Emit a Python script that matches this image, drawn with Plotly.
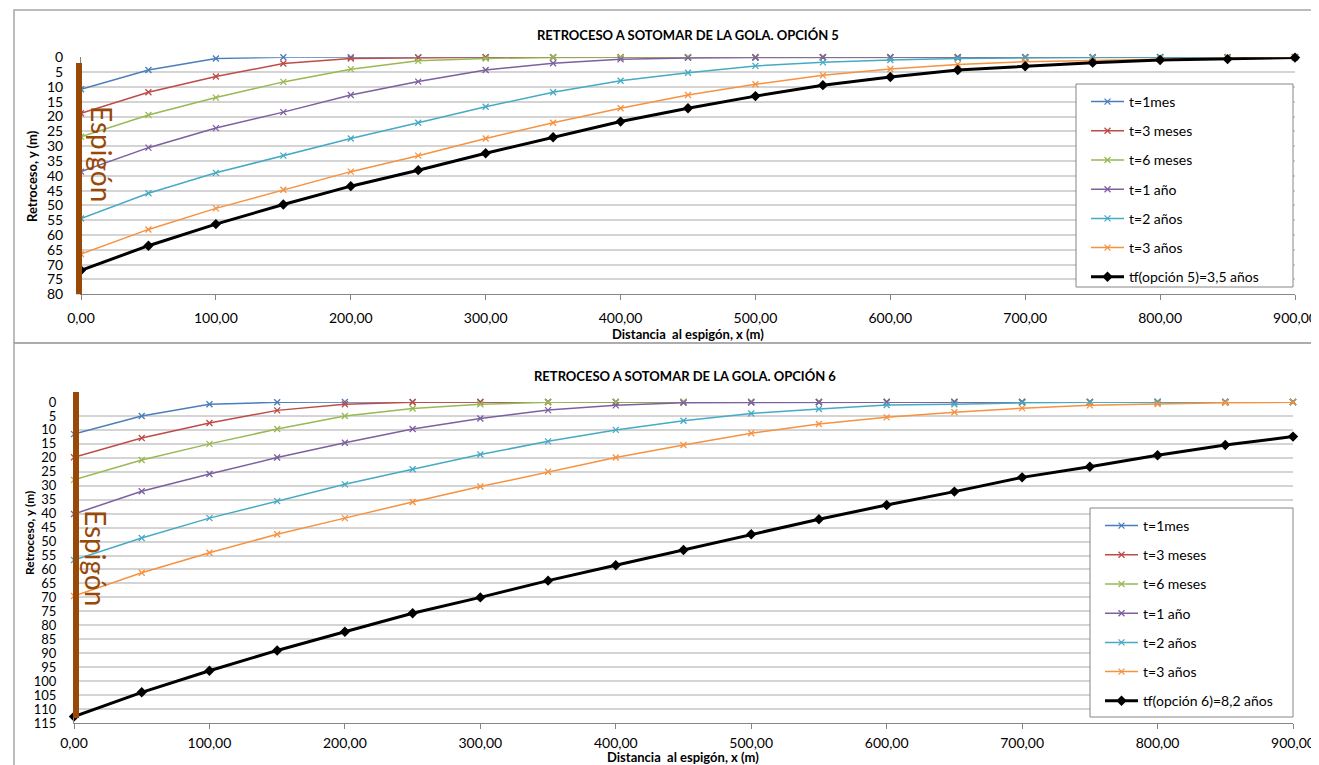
import plotly.graph_objects as go

# page body has an 8px margin: the figure is placed at (8, 8) in the window
OFF = 8
W, H = 1319 - OFF, 765 - OFF

# ---------------- data ----------------
x_dist = [0, 50, 100, 150, 200, 250, 300, 350, 400, 450, 500, 550, 600, 650, 700, 750, 800, 850, 900]

names_5 = ["t=1mes", "t=3 meses", "t=6 meses", "t=1 año", "t=2 años", "t=3 años", "tf(opción 5)=3,5 años"]
names_6 = ["t=1mes", "t=3 meses", "t=6 meses", "t=1 año", "t=2 años", "t=3 años", "tf(opción 6)=8,2 años"]

# Opción 5
o5_t1m = [10.8, 4.3, 0.4, 0, 0, 0, 0, 0, 0, 0, 0, 0, 0, 0, 0, 0, 0, 0, 0]
o5_t3m = [18.9, 11.8, 6.5, 2.1, 0.4, 0.1, 0, 0, 0, 0, 0, 0, 0, 0, 0, 0, 0, 0, 0]
o5_t6m = [26.8, 19.5, 13.6, 8.3, 4.0, 1.2, 0.4, 0.05, 0, 0, 0, 0, 0, 0, 0, 0, 0, 0, 0]
o5_t1a = [38.6, 30.5, 23.9, 18.5, 12.7, 8.2, 4.3, 2.0, 0.7, 0.2, 0.05, 0, 0, 0, 0, 0, 0, 0, 0]
o5_t2a = [54.4, 45.9, 39.0, 33.2, 27.4, 22.1, 16.7, 11.8, 7.9, 5.2, 2.9, 1.7, 0.9, 0.4, 0.1, 0.05, 0, 0, 0]
o5_t3a = [66.4, 58.1, 51.0, 44.7, 38.6, 33.2, 27.4, 22.1, 17.2, 12.7, 9.1, 6.1, 3.95, 2.4, 1.5, 1.1, 0.6, 0.2, 0]
o5_tf = [71.9, 63.6, 56.3, 49.7, 43.5, 38.1, 32.4, 27.0, 21.7, 17.2, 13.1, 9.4, 6.65, 4.3, 3.0, 1.8, 0.9, 0.6, 0.1]

# Opción 6
o6_t1m = [11.5, 5.0, 0.8, 0.1, 0, 0, 0, 0, 0, 0, 0, 0, 0, 0, 0, 0, 0, 0, 0]
o6_t3m = [19.8, 12.9, 7.5, 3.0, 0.8, 0.1, 0, 0, 0, 0, 0, 0, 0, 0, 0, 0, 0, 0, 0]
o6_t6m = [27.9, 20.8, 15.0, 9.7, 5.0, 2.3, 0.8, 0.1, 0, 0, 0, 0, 0, 0, 0, 0, 0, 0, 0]
o6_t1a = [40.1, 32.0, 25.8, 19.9, 14.6, 9.7, 5.9, 2.9, 1.2, 0.3, 0.2, 0.1, 0, 0, 0, 0, 0, 0, 0]
o6_t2a = [56.6, 48.7, 41.6, 35.5, 29.5, 24.1, 18.8, 14.1, 10.0, 6.7, 4.1, 2.5, 1.1, 0.8, 0.3, 0.1, 0, 0, 0]
o6_t3a = [69.5, 61.2, 54.0, 47.4, 41.6, 35.8, 30.3, 25.0, 19.9, 15.4, 11.2, 7.9, 5.5, 3.7, 2.2, 1.2, 0.7, 0.25, 0.1]
o6_tf = [112.7, 104.0, 96.3, 89.0, 82.3, 75.7, 70.0, 64.0, 58.5, 53.0, 47.4, 42.0, 36.9, 32.1, 27.0, 23.2, 19.1, 15.4, 12.4]

x_ticks = [0, 100, 200, 300, 400, 500, 600, 700, 800, 900]

series_5 = [o5_t1m, o5_t3m, o5_t6m, o5_t1a, o5_t2a, o5_t3a, o5_tf]
series_6 = [o6_t1m, o6_t3m, o6_t6m, o6_t1a, o6_t2a, o6_t3a, o6_tf]

colors = ["#4A7EBB", "#BE4B48", "#98B954", "#7D60A0", "#46AAC5", "#F69240", "#000000"]
BROWN = "#984807"
FONT = "Lato"

# plot-area boxes in window pixels: (left, right, top, bottom)
BOX1 = (81, 1295, 57.3, 294.3)
BOX2 = (74, 1293, 402, 723)


def pxx(v):
    return (v - OFF) / W


def pyy(v):
    return 1 - (v - OFF) / H


def paper_rect(x0, x1, y0, y1, **kw):
    """rectangle given in window pixels, in paper coordinates"""
    return dict(type="rect", xref="paper", yref="paper",
                x0=pxx(x0), x1=pxx(x1), y0=pyy(y1), y1=pyy(y0), **kw)


fig = go.Figure()


def add_series(series, names, xa, ya, leg, prefix):
    for i, (vals, nm) in enumerate(zip(series, names)):
        c = colors[i]
        if i == 6:
            line = dict(color=c, width=3)
            marker = dict(symbol="diamond", size=8, color=c)
        else:
            line = dict(color=c, width=1.5)
            marker = dict(symbol="x-thin", size=6, color=c, line=dict(color=c, width=1.3))
        fig.add_trace(go.Scatter(
            x=x_dist, y=vals, name=nm, mode="lines+markers",
            line=line, marker=marker, xaxis=xa, yaxis=ya,
            legend=leg, legendgroup=f"{prefix}{i}", cliponaxis=False,
        ))


add_series(series_5, names_5, "x", "y", "legend", "a")
add_series(series_6, names_6, "x2", "y2", "legend2", "b")

xcommon = dict(
    range=[0, 900], tickvals=x_ticks, tickformat=".2f", showgrid=False,
    showline=True, linecolor="#868686", linewidth=1, ticks="outside",
    ticklen=5, tickcolor="#868686", zeroline=False, automargin=False,
    tickfont=dict(family=FONT, size=14, color="#000"),
)
ycommon = dict(
    dtick=5, tick0=0, showgrid=True, gridcolor="#D4D4D4", gridwidth=1.5,
    showline=True, linecolor="#868686", linewidth=1, ticks="", zeroline=False,
    automargin=False,
)

fig.update_layout(
    width=W, height=H, margin=dict(l=0, r=0, t=0, b=0, autoexpand=False),
    paper_bgcolor="white", plot_bgcolor="white",
    separators=",.",
    font=dict(family=FONT, color="#000"),
    xaxis=dict(domain=[pxx(BOX1[0]), pxx(BOX1[1])], anchor="y", ticklabelstandoff=6, **xcommon),
    yaxis=dict(domain=[pyy(BOX1[3]), pyy(BOX1[2])], anchor="x", range=[80, 0],
               tickfont=dict(family=FONT, size=14, color="#000"), ticklabelstandoff=14, **ycommon),
    xaxis2=dict(domain=[pxx(BOX2[0]), pxx(BOX2[1])], anchor="y2", ticklabelstandoff=2, **xcommon),
    yaxis2=dict(domain=[pyy(BOX2[3]), pyy(BOX2[2])], anchor="x2", range=[115, 0],
                tickfont=dict(family=FONT, size=13, color="#000"), ticklabelstandoff=14, **ycommon),
    legend=dict(x=pxx(1086), y=pyy(86), xanchor="left", yanchor="top",
                bgcolor="rgba(0,0,0,0)", borderwidth=0, tracegroupgap=8,
                itemwidth=33, font=dict(family=FONT, size=14, color="#000")),
    legend2=dict(x=pxx(1100), y=pyy(510), xanchor="left", yanchor="top",
                 bgcolor="rgba(0,0,0,0)", borderwidth=0, tracegroupgap=8,
                 itemwidth=33, font=dict(family=FONT, size=14, color="#000")),
)

shapes = [
    # chart frames
    paper_rect(14, 1330, 10, 343, line=dict(color="#A6A6A6", width=1.5),
               fillcolor="rgba(0,0,0,0)", layer="below"),
    paper_rect(14, 1330, 343, 780, line=dict(color="#A6A6A6", width=1.5),
               fillcolor="rgba(0,0,0,0)", layer="below"),
    # legend boxes
    paper_rect(1076, 1293, 84, 287, line=dict(color="#868686", width=1),
               fillcolor="white", layer="above"),
    paper_rect(1090, 1293, 508, 717, line=dict(color="#868686", width=1),
               fillcolor="white", layer="above"),
    # espigón bars
    paper_rect(76, 82, 63, 294.3, line=dict(width=0), fillcolor=BROWN, layer="above"),
    paper_rect(73, 79, 392, 718, line=dict(width=0), fillcolor=BROWN, layer="above"),
]
fig.update_layout(shapes=shapes)

ann = []


def text(x, y, t, size, bold=False, angle=0, color="#000"):
    ann.append(dict(xref="paper", yref="paper", x=pxx(x), y=pyy(y), text=(f"<b>{t}</b>" if bold else t),
                    showarrow=False, xanchor="center", yanchor="middle", textangle=angle,
                    font=dict(family=FONT, size=size, color=color)))


text(688, 35, "RETROCESO A SOTOMAR DE LA GOLA. OPCIÓN 5", 13, bold=True)
text(685, 376, "RETROCESO A SOTOMAR DE LA GOLA. OPCIÓN 6", 13, bold=True)
text(688, 334, "Distancia  al espigón, x (m)", 13, bold=True)
text(683, 757, "Distancia  al espigón, x (m)", 13, bold=True)
text(32, 176, "Retroceso, y (m)", 13, bold=True, angle=-90)
text(29, 533, "Retroceso, y (m)", 12, bold=True, angle=-90)
text(102, 154, "Espigón", 28, angle=90, color=BROWN)
text(96, 558, "Espigón", 28, angle=90, color=BROWN)

fig.update_layout(annotations=ann)

fig.write_html("out.html")
